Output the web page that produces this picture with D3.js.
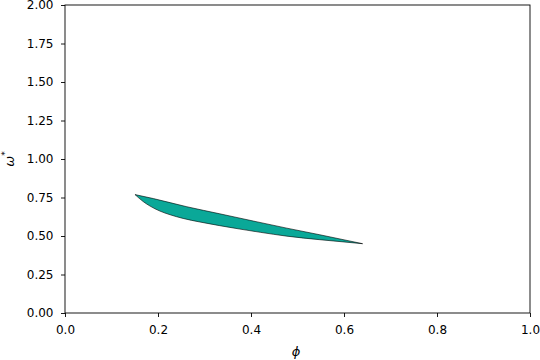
<!DOCTYPE html>
<html>
<head>
<meta charset="utf-8">
<script src="https://cdn.jsdelivr.net/npm/d3@7"></script>
<style>
body{margin:0;background:#fff;}
text{font-family:"DejaVu Sans",sans-serif;}
</style>
</head>
<body>
<div id="chart"></div>
<script>
// region boundaries
var upperPhi = [0.1505, 0.190, 0.262, 0.333, 0.405, 0.477, 0.548, 0.640];
var upperVals = [0.769, 0.743, 0.690, 0.644, 0.597, 0.551, 0.508, 0.450];
var lowerPhi = [0.1505, 0.168, 0.183, 0.204, 0.226, 0.254, 0.290, 0.333, 0.376, 0.420, 0.477, 0.548, 0.640];
var lowerVals = [0.769, 0.724, 0.694, 0.662, 0.638, 0.614, 0.591, 0.567, 0.545, 0.524, 0.499, 0.476, 0.450];
var xTicks = [0, 0.2, 0.4, 0.6, 0.8, 1.0];
var yTicks = [0, 0.25, 0.5, 0.75, 1.0, 1.25, 1.5, 1.75, 2.0];

var W = 540, H = 360;
var m = {left:65, right:10, top:5, bottom:47};

var svg = d3.select("#chart").append("svg")
	.attr("width", W).attr("height", H);

var x = d3.scaleLinear().domain([0,1]).range([m.left, W-m.right]);
var y = d3.scaleLinear().domain([0,2]).range([H-m.bottom, m.top]);

var upper = upperPhi.map(function(p,i){ return [p, upperVals[i]]; });
var lower = lowerPhi.map(function(p,i){ return [p, lowerVals[i]]; });

var line = d3.line()
	.x(function(d){ return x(d[0]); })
	.y(function(d){ return y(d[1]); })
	.curve(d3.curveMonotoneX);

// closed outline: upper edge left->right, lower edge right->left
var outline = line(upper) + line(lower.slice().reverse()).replace(/^M/, "L") + "Z";

svg.append("path")
	.attr("d", outline)
	.attr("fill", "#0aa898")
	.attr("stroke", "#000")
	.attr("stroke-width", 0.6)
	.attr("stroke-linejoin", "round");

var xAxis = svg.append("g")
	.attr("transform", "translate(0," + (H-m.bottom) + ")")
	.call(d3.axisBottom(x).tickValues(xTicks).tickFormat(d3.format(".1f")).tickSizeOuter(0).tickSize(4).tickPadding(8));
var yAxis = svg.append("g")
	.attr("transform", "translate(" + m.left + ",0)")
	.call(d3.axisLeft(y).tickValues(yTicks).tickFormat(d3.format(".2f")).tickSizeOuter(0).tickSize(4).tickPadding(7.5));

[xAxis, yAxis].forEach(function(g){
	g.selectAll("text").attr("font-size", 12).attr("fill", "#000");
	g.selectAll("line").attr("stroke", "#000").attr("stroke-width", 0.9);
	g.select(".domain").remove();
});

// frame
svg.append("rect")
	.attr("x", m.left).attr("y", m.top)
	.attr("width", W-m.left-m.right).attr("height", H-m.top-m.bottom)
	.attr("fill", "none").attr("stroke", "#000").attr("stroke-width", 0.9);

svg.append("text")
	.attr("x", 296).attr("y", 356)
	.attr("text-anchor", "middle")
	.attr("font-size", 13).attr("font-style", "italic")
	.text("\u03d5");

var yl = svg.append("text")
	.attr("transform", "translate(14," + ((m.top + H - m.bottom)/2) + ") rotate(-90)")
	.attr("text-anchor", "middle")
	.attr("font-size", 13).attr("font-style", "italic");
yl.append("tspan").text("\u03c9");
yl.append("tspan").attr("dy", -6).attr("font-size", 9).text("*");
</script>
</body>
</html>
